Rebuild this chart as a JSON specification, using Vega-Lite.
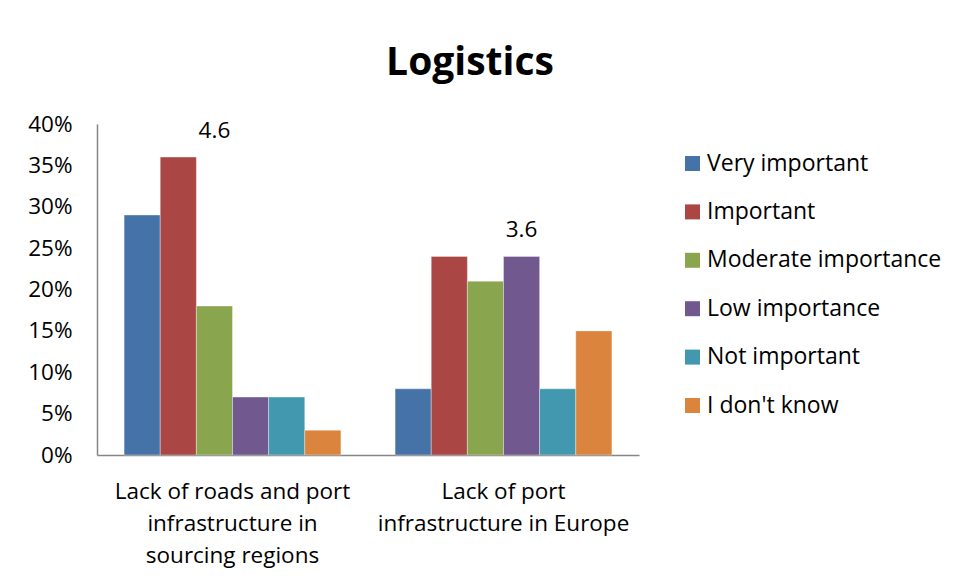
{
  "$schema": "https://vega.github.io/schema/vega-lite/v6.json",
  "width": 542,
  "height": 331,
  "autosize": {"type": "none"},
  "padding": {"left": 97, "top": 124, "right": 317, "bottom": 125},
  "background": "white",
  "title": {
    "text": "Logistics",
    "font": "Open Sans",
    "fontSize": 39,
    "fontWeight": "bold",
    "color": "black",
    "anchor": "middle",
    "frame": "group",
    "dx": 102,
    "offset": 30
  },
  "config": {
    "view": {"stroke": null},
    "font": "Open Sans",
    "axis": {"labelFont": "Open Sans", "labelColor": "black", "labelFontSize": 22.5, "domainColor": "#868686", "domainWidth": 1.5, "ticks": false, "grid": false, "title": null, "labelOverlap": false, "labelLimit": 400}
  },
  "datasets": {
    "bars": [
      {"issue": "Lack of roads and port|infrastructure in|sourcing regions", "answer": "Very important", "share": 0.29},
      {"issue": "Lack of roads and port|infrastructure in|sourcing regions", "answer": "Important", "share": 0.36},
      {"issue": "Lack of roads and port|infrastructure in|sourcing regions", "answer": "Moderate importance", "share": 0.18},
      {"issue": "Lack of roads and port|infrastructure in|sourcing regions", "answer": "Low importance", "share": 0.07},
      {"issue": "Lack of roads and port|infrastructure in|sourcing regions", "answer": "Not important", "share": 0.07},
      {"issue": "Lack of roads and port|infrastructure in|sourcing regions", "answer": "I don't know", "share": 0.03},
      {"issue": "Lack of port|infrastructure in Europe", "answer": "Very important", "share": 0.08},
      {"issue": "Lack of port|infrastructure in Europe", "answer": "Important", "share": 0.24},
      {"issue": "Lack of port|infrastructure in Europe", "answer": "Moderate importance", "share": 0.21},
      {"issue": "Lack of port|infrastructure in Europe", "answer": "Low importance", "share": 0.24},
      {"issue": "Lack of port|infrastructure in Europe", "answer": "Not important", "share": 0.08},
      {"issue": "Lack of port|infrastructure in Europe", "answer": "I don't know", "share": 0.15}
    ],
    "scores": [
      {"issue": "Lack of roads and port|infrastructure in|sourcing regions", "answer": "Moderate importance", "score": "4.6", "share": 0.392},
      {"issue": "Lack of port|infrastructure in Europe", "answer": "Low importance", "score": "3.6", "share": 0.272}
    ]
  },
  "layer": [
    {
      "data": {"name": "bars"},
      "mark": {"type": "bar", "stroke": "white", "strokeWidth": 0.6, "strokeOpacity": 0.6},
      "encoding": {
        "x": {
          "field": "issue", "type": "nominal", "sort": null,
          "scale": {"paddingInner": 0, "paddingOuter": 0},
          "axis": {"labelAngle": 0, "labelExpr": "split(datum.label, '|')", "labelLineHeight": 32, "labelPadding": 25, "labelBaseline": "top"}
        },
        "xOffset": {
          "field": "answer", "type": "nominal",
          "sort": ["Very important", "Important", "Moderate importance", "Low importance", "Not important", "I don't know"],
          "scale": {"paddingInner": 0, "paddingOuter": 0.75}
        },
        "y": {
          "field": "share", "type": "quantitative",
          "scale": {"domain": [0, 0.4], "nice": false},
          "axis": {"format": ".0%", "values": [0, 0.05, 0.1, 0.15, 0.2, 0.25, 0.3, 0.35, 0.4], "labelPadding": 25}
        },
        "color": {
          "field": "answer", "type": "nominal",
          "sort": ["Very important", "Important", "Moderate importance", "Low importance", "Not important", "I don't know"],
          "scale": {
            "domain": ["Very important", "Important", "Moderate importance", "Low importance", "Not important", "I don't know"],
            "range": ["#4572A7", "#AA4643", "#89A54E", "#71588F", "#4198AF", "#DB843D"]
          },
          "legend": {
            "title": null,
            "orient": "none",
            "legendX": 584,
            "legendY": 28,
            "symbolType": "square",
            "symbolSize": 225,
            "symbolStrokeWidth": 0,
            "labelFont": "Open Sans",
            "labelFontSize": 23,
            "labelColor": "black",
            "labelOffset": 3,
            "rowPadding": 24.4,
            "labelLimit": 400
          }
        }
      }
    },
    {
      "data": {"name": "scores"},
      "mark": {"type": "text", "fontSize": 22.5, "font": "Open Sans", "color": "black", "baseline": "middle"},
      "encoding": {
        "x": {"field": "issue", "type": "nominal", "sort": null},
        "xOffset": {"field": "answer", "type": "nominal", "sort": ["Very important", "Important", "Moderate importance", "Low importance", "Not important", "I don't know"]},
        "y": {"field": "share", "type": "quantitative"},
        "text": {"field": "score"}
      }
    }
  ]
}
